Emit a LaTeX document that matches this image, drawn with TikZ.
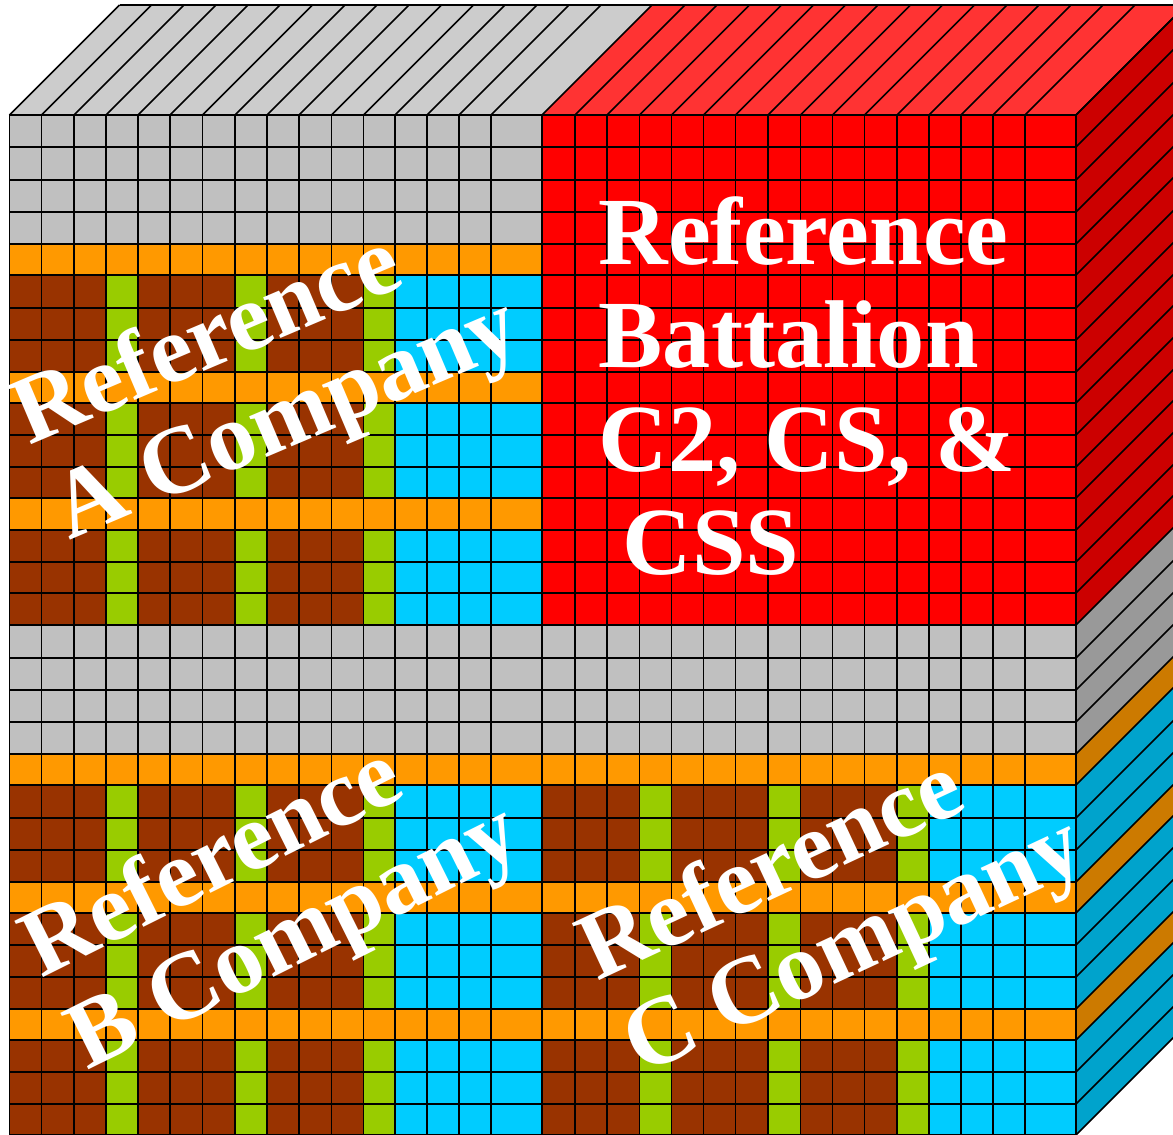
\documentclass[tikz,border=0pt]{standalone}
\usepackage{fontspec}
\setmainfont{Liberation Serif}
\definecolor{cGrey}{HTML}{C0C0C0}
\definecolor{cGreyTop}{HTML}{CCCCCC}
\definecolor{cGreySide}{HTML}{999999}
\definecolor{cRed}{HTML}{FF0000}
\definecolor{cRedTop}{HTML}{FF3333}
\definecolor{cRedSide}{HTML}{CC0000}
\definecolor{cOrange}{HTML}{FF9900}
\definecolor{cOrangeSide}{HTML}{CC7A00}
\definecolor{cBlue}{HTML}{00CCFF}
\definecolor{cBlueSide}{HTML}{00A3CC}
\definecolor{cBrown}{HTML}{993300}
\definecolor{cGreen}{HTML}{99CC00}
\tikzset{
  gridline/.style={draw=black,line width=1.6pt},
  bigtext/.style={text=white,font=\bfseries\fontsize{96.3}{103.5}\selectfont,align=left,inner sep=0pt,anchor=north west},
}
\newcommand\companyfill{%
  \fill[cGrey] (9.5,0) rectangle (542,129);
  \fill[cBrown] (9.5,129) rectangle (395,510);
  \fill[cBlue] (395,129) rectangle (543,510);
  \foreach \xa/\xb in {106/138,235/267,363.5/395} \fill[cGreen] (\xa,129) rectangle (\xb,510);
  \foreach \ya/\yb in {129/160.5,257/288,383/415} \fill[cOrange] (9.5,\ya) rectangle (543,\yb);
}
\begin{document}
\begin{tikzpicture}[x=1pt,y=-1pt,line join=round]
\useasboundingbox (0,0) rectangle (1173,1135);
\clip (0,0) rectangle (1173,1135);
% top face
\fill[cGreyTop] (9.5,115) -- (119.5,5) -- (652,5) -- (542,115) -- cycle;
\fill[cRedTop] (542,115) -- (652,5) -- (1186,5) -- (1076,115) -- cycle;
% side face
\foreach \ya/\yb/\c in {115/625/cRedSide,625/754/cGreySide,754/785/cOrangeSide,785/882/cBlueSide,882/913/cOrangeSide,913/1009/cBlueSide,1009/1040/cOrangeSide,1040/1135/cBlueSide}
  \fill[\c] (1076,\ya) -- (1186,\ya-110) -- (1186,\yb-110) -- (1076,\yb) -- cycle;
% front face
\begin{scope}[shift={(0,115)}]\companyfill\end{scope}
\begin{scope}[shift={(0,625)}]\companyfill\end{scope}
\begin{scope}[shift={(533,625)}]\companyfill\end{scope}
\fill[cRed] (542,115) rectangle (1076,625);
% depth lines on top face
\foreach \x in {9.5,41.5,74,106,138,170,202.5,235,267,299,331.5,363.5,395,427,459,491,542,575,607,639.5,671.5,703.5,735.5,768,800.5,832.5,864.5,897,929,961,993,1025,1076}
  \draw[gridline] (\x,115) -- ++(110,-110);
% depth lines on side face
\foreach \y in {115,147,180,212,244,275,308,340,372,403,435,467,498,530,562,593,625,658,690,722,754,785,818,850,882,913,945,977,1009,1040,1072,1104,1135}
  \draw[gridline] (1076,\y) -- ++(110,-110);
% front grid
\foreach \x in {9.5,41.5,74,106,138,170,202.5,235,267,299,331.5,363.5,395,427,459,491,542,575,607,639.5,671.5,703.5,735.5,768,800.5,832.5,864.5,897,929,961,993,1025,1076}
  \draw[gridline] (\x,115) -- (\x,1135);
\foreach \y in {115,147,180,212,244,275,308,340,372,403,435,467,498,530,562,593,625,658,690,722,754,785,818,850,882,913,945,977,1009,1040,1072,1104,1135}
  \draw[gridline] (9.5,\y) -- (1076,\y);
\draw[gridline] (119.5,5) -- (1186,5);
% labels
\node[bigtext] (bn) at (598.5,196) {Reference\\Battalion\\C2, CS, \&\\\hspace*{24pt}CSS};
\node[bigtext,rotate=23] (ca) at (2.5,382.8) {Reference\\A Company};
\node[bigtext,rotate=26.5] (cb) at (10.6,917.5) {Reference\\B Company};
\node[bigtext,rotate=25] (cc) at (568.4,919.9) {Reference\\C Company};
\end{tikzpicture}
\end{document}
